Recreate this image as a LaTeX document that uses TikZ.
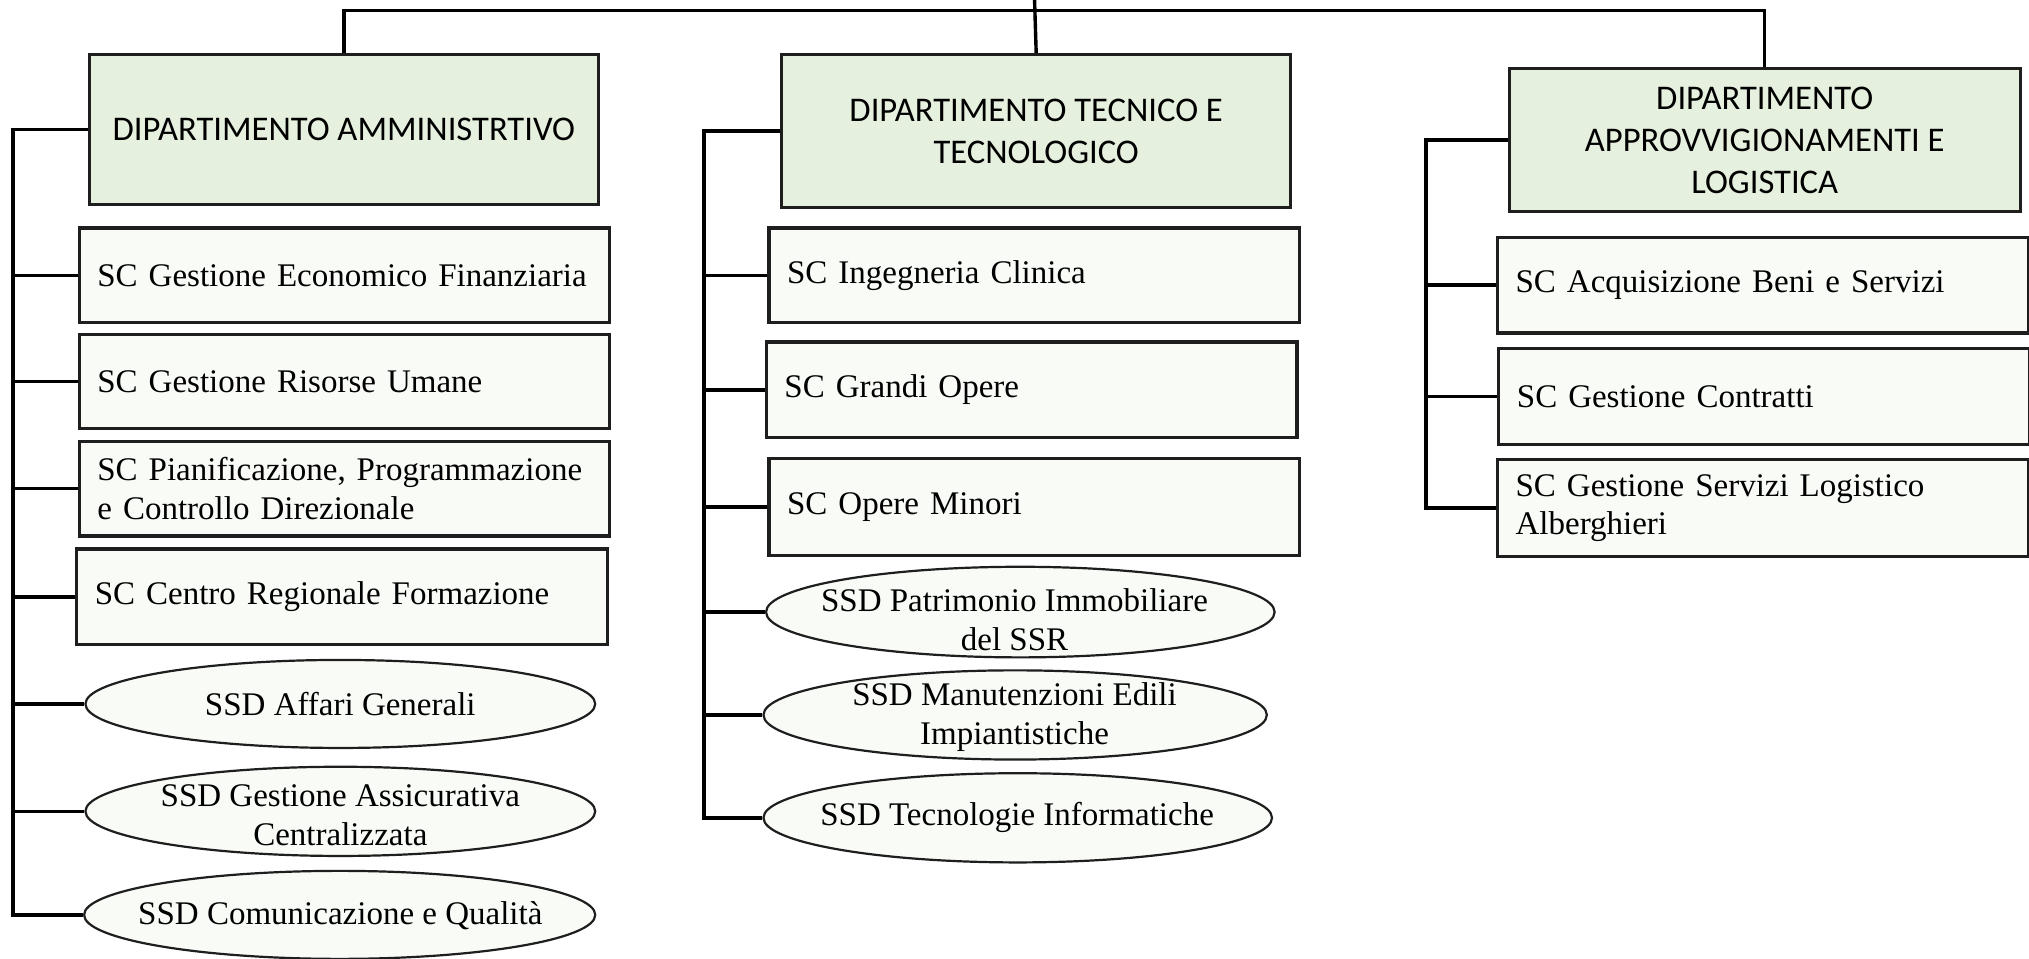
\documentclass[tikz,border=0pt]{standalone}
\usepackage{fontspec}
\setmainfont{Liberation Serif}
\newfontfamily\hdrfont{Carlito}
\usetikzlibrary{shapes.geometric}
\definecolor{hdrfill}{RGB}{229,240,222}
\definecolor{boxfill}{RGB}{249,251,246}
\definecolor{edgecol}{RGB}{30,30,30}
\begin{document}
\begin{tikzpicture}[x=0.647pt,y=-0.647pt,
  hdrbox/.style={draw=edgecol, line width=1.6pt, fill=hdrfill, anchor=north west, inner sep=0pt, align=center,
    font=\hdrfont\fontsize{17.3}{21}\selectfont},
  scbox/.style={draw=edgecol, line width=1.6pt, fill=boxfill, anchor=north west, inner xsep=9.06pt, inner ysep=0pt,
    text width=247.2pt, align=left, font=\fontsize{16.5}{19.4}\selectfont},
  ssd/.style={ellipse, draw=edgecol, line width=1.1pt, fill=boxfill, inner sep=0pt},
  lbl/.style={align=center, inner sep=0pt, font=\fontsize{16.5}{19.4}\selectfont},
  conn/.style={draw=black, line width=1.7pt}
]
\useasboundingbox (0,0) rectangle (1568,741);

% department headers
\node[hdrbox, minimum width=254.3pt, minimum height=75.1pt] (d1) at (68,41) {DIPARTIMENTO AMMINISTRTIVO};
\node[hdrbox, minimum width=254.3pt, minimum height=76.3pt] (d2) at (603,41) {DIPARTIMENTO TECNICO E\\TECNOLOGICO};
\node[hdrbox, minimum width=255.6pt, minimum height=71.2pt] (d3) at (1165,52) {DIPARTIMENTO\\APPROVVIGIONAMENTI E\\LOGISTICA};

% left column
\node[scbox, minimum height=47.2pt] (b1) at (60,175) {SC Gestione Economico Finanziaria};
\node[scbox, minimum height=47.2pt] (b2) at (60,257) {SC Gestione Risorse Umane};
\node[scbox, minimum height=47.2pt] (b3) at (60,340) {SC Pianificazione, Programmazione\\e Controllo Direzionale};
\node[scbox, minimum height=47.9pt] (b4) at (58,423) {SC Centro Regionale Formazione};
\node[ssd, minimum width=254.9pt, minimum height=44pt] (e1) at (263,544) {};
\node[ssd, minimum width=254.9pt, minimum height=44.6pt] (e2) at (263,627) {};
\node[ssd, minimum width=255.6pt, minimum height=44pt] (e3) at (262.5,707) {};
\node[lbl] (e1t) at (263,544) {SSD Affari Generali};
\node[lbl] (e2t) at (263,630) {SSD Gestione Assicurativa\\Centralizzata};
\node[lbl] (e3t) at (263,708) {SSD Comunicazione e Qualità};

% middle column
\node[scbox, minimum height=47.2pt] (m1) at (593,175) {SC Ingegneria Clinica};
\node[scbox, minimum height=47.9pt] (m2) at (591,263) {SC Grandi Opere};
\node[scbox, minimum height=48.5pt] (m3) at (593,353) {SC Opere Minori};
\node[ssd, minimum width=254.3pt, minimum height=45.3pt] (me1) at (788.5,473) {};
\node[ssd, minimum width=251.7pt, minimum height=44.6pt] (me2) at (784.5,552.5) {};
\node[ssd, minimum width=254.3pt, minimum height=44.6pt] (me3) at (786.5,632) {};
\node[lbl] (me1t) at (784,479) {SSD Patrimonio Immobiliare\\del SSR};
\node[lbl] (me2t) at (784,554) {SSD Manutenzioni Edili\\Impiantistiche};
\node[lbl] (me3t) at (786,632) {SSD Tecnologie Informatiche};

% right column
\node[scbox, minimum height=47.9pt] (r1) at (1156,182) {SC Acquisizione Beni e Servizi};
\node[scbox, minimum height=47.9pt] (r2) at (1157,268) {SC Gestione Contratti};
\node[scbox, minimum height=48.5pt] (r3) at (1156,354) {SC Gestione Servizi Logistico\\Alberghieri};

% connector helpers
\coordinate (root) at (799.5,0);
\coordinate (bar) at (799.5,8);
\coordinate (lx1) at (10,0);
\coordinate (lx2) at (544,0);
\coordinate (lx3) at (1102,0);

% top connectors
\draw[conn] (root) -- (d2.north);
\draw[conn] (d1.north) |- (bar) -| (d3.north);

% left tree
\draw[conn] (d1.west) -| (lx1 |- e3.west) -- (e3.west);
\foreach \n in {b1,b2,b3,b4,e1,e2} \draw[conn] (\n.west) -- (\n.west -| lx1);

% middle tree
\draw[conn] (d2.west) -| (lx2 |- me3.west) -- (me3.west);
\foreach \n in {m1,m2,m3,me1,me2} \draw[conn] (\n.west) -- (\n.west -| lx2);

% right tree
\draw[conn] (d3.west) -| (lx3 |- r3.west) -- (r3.west);
\foreach \n in {r1,r2} \draw[conn] (\n.west) -- (\n.west -| lx3);
\end{tikzpicture}
\end{document}
